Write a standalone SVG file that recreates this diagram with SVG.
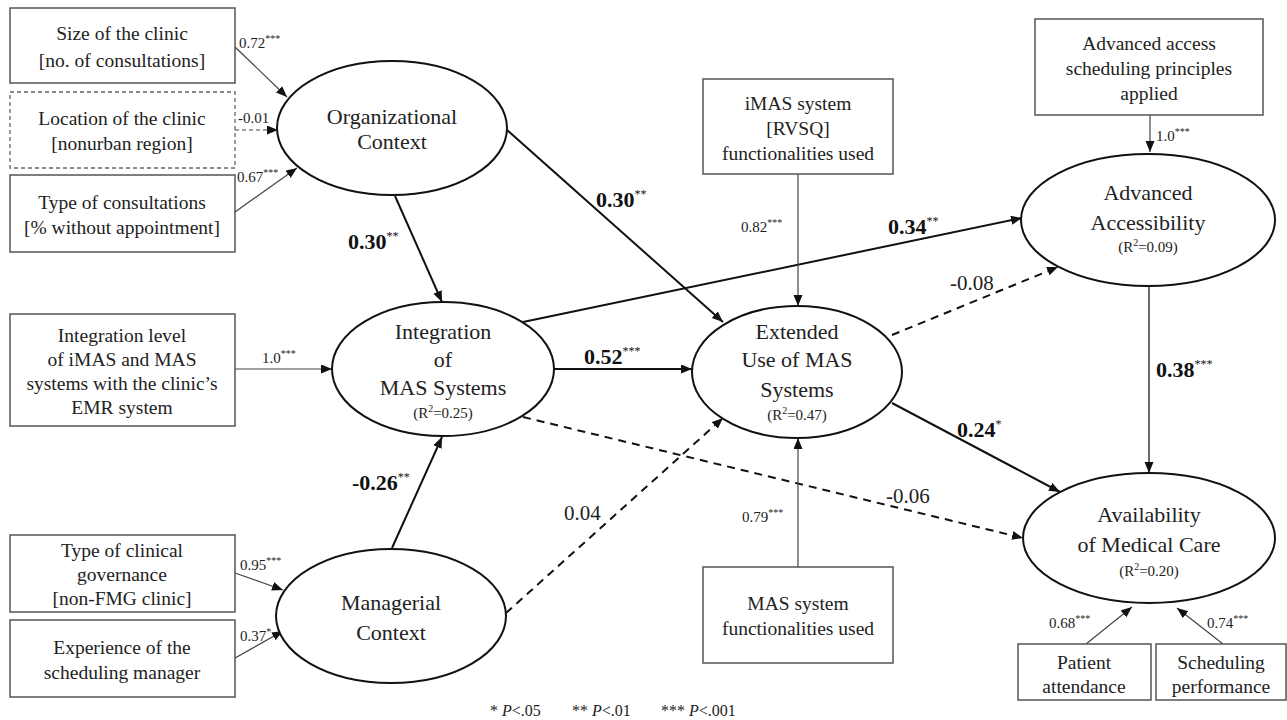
<svg xmlns="http://www.w3.org/2000/svg" width="1287" height="720" viewBox="0 0 1287 720" font-family="'Liberation Serif', 'Times New Roman', 'DejaVu Serif', serif">
<style>
text{font-family:"Liberation Serif","Times New Roman","DejaVu Serif",serif;fill:#222;}
.bx{fill:#fff;stroke:#555;stroke-width:1.5;}
.bxd{fill:#fff;stroke:#666;stroke-width:1.3;stroke-dasharray:4 3;}
.el{fill:#fff;stroke:#111;stroke-width:2;}
.bt{font-size:19.5px;text-anchor:middle;}
.et{font-size:22px;text-anchor:middle;}
.r2{font-size:15px;text-anchor:middle;}
.sm{font-size:15px;}
.big{font-size:22px;font-weight:bold;fill:#111;}
.reg{font-size:21px;}
.sup{font-size:10px;}
.supb{font-size:12px;font-weight:normal;}
.thin{stroke:#444;stroke-width:1.2;fill:none;marker-end:url(#ah);}
.thick{stroke:#111;stroke-width:2;fill:none;marker-end:url(#ah);}
.dash{stroke-dasharray:8 6;}
.thind{stroke:#444;stroke-width:1.2;fill:none;stroke-dasharray:4 3;marker-end:url(#ah);}
</style>
<defs>
<marker id="ah" markerUnits="userSpaceOnUse" markerWidth="12" markerHeight="10" refX="11" refY="4.5" orient="auto">
<path d="M0,0 L11,4.5 L0,9 Z" fill="#111"/>
</marker>
</defs>
<rect width="1287" height="720" fill="#fff"/>

<g id="connectors">
<line class="thin" x1="235" y1="47" x2="287" y2="97"/>
<line class="thind" x1="235" y1="130" x2="278" y2="130"/>
<line class="thin" x1="235" y1="212" x2="297" y2="168"/>
<line class="thick" x1="395" y1="196" x2="442" y2="302"/>
<line class="thick" x1="507" y1="130" x2="723" y2="322"/>
<line class="thin" x1="235" y1="369" x2="332" y2="369"/>
<line class="thick" x1="554" y1="369" x2="692" y2="369"/>
<line class="thick" x1="523" y1="322" x2="1022" y2="218"/>
<line class="thick dash" x1="523" y1="417" x2="1023" y2="538"/>
<line class="thick" x1="392" y1="548" x2="442" y2="437"/>
<line class="thick dash" x1="506" y1="613" x2="723" y2="418"/>
<line class="thin" x1="798" y1="174" x2="798" y2="306"/>
<line class="thin" x1="798" y1="567" x2="798" y2="438"/>
<line class="thick dash" x1="892" y1="335" x2="1058" y2="267"/>
<line class="thick" x1="892" y1="403" x2="1060" y2="492"/>
<line class="thin" x1="1149" y1="286" x2="1149" y2="473" style="stroke-width:1.6"/>
<line class="thin" x1="1150" y1="115" x2="1150" y2="152"/>
<line class="thin" x1="1086" y1="644" x2="1132" y2="607"/>
<line class="thin" x1="1223" y1="644" x2="1177" y2="608"/>
<line class="thin" x1="235" y1="573" x2="283" y2="590"/>
<line class="thin" x1="235" y1="658" x2="283" y2="631"/>
</g>

<g id="n-size">
<rect class="bx" x="10" y="8" width="225" height="75"/>
<text class="bt" x="122" y="40">Size of the clinic</text>
<text class="bt" x="122" y="67">[no. of consultations]</text>
</g>
<g id="n-location">
<rect class="bxd" x="10" y="92" width="225" height="76"/>
<text class="bt" x="122" y="125">Location of the clinic</text>
<text class="bt" x="122" y="150">[nonurban region]</text>
</g>
<g id="n-type">
<rect class="bx" x="10" y="175" width="225" height="77"/>
<text class="bt" x="122" y="209">Type of consultations</text>
<text class="bt" x="122" y="234">[% without appointment]</text>
</g>
<g id="n-integlevel">
<rect class="bx" x="10" y="314" width="225" height="112"/>
<text class="bt" x="122" y="342">Integration level</text>
<text class="bt" x="122" y="366">of iMAS and MAS</text>
<text class="bt" x="122" y="390">systems with the clinic’s</text>
<text class="bt" x="122" y="414">EMR system</text>
</g>
<g id="n-governance">
<rect class="bx" x="10" y="535" width="225" height="77"/>
<text class="bt" x="122" y="557">Type of clinical</text>
<text class="bt" x="122" y="581">governance</text>
<text class="bt" x="122" y="605">[non-FMG clinic]</text>
</g>
<g id="n-experience">
<rect class="bx" x="10" y="620" width="225" height="77"/>
<text class="bt" x="122" y="654">Experience of the</text>
<text class="bt" x="122" y="679">scheduling manager</text>
</g>
<g id="n-imas">
<rect class="bx" x="703" y="79" width="190" height="95"/>
<text class="bt" x="798" y="110">iMAS system</text>
<text class="bt" x="798" y="135">[RVSQ]</text>
<text class="bt" x="798" y="160">functionalities used</text>
</g>
<g id="n-mas">
<rect class="bx" x="703" y="567" width="190" height="96"/>
<text class="bt" x="798" y="610">MAS system</text>
<text class="bt" x="798" y="635">functionalities used</text>
</g>
<g id="n-advbox">
<rect class="bx" x="1035" y="19" width="228" height="96"/>
<text class="bt" x="1149" y="50">Advanced access</text>
<text class="bt" x="1149" y="75">scheduling principles</text>
<text class="bt" x="1149" y="100">applied</text>
</g>
<g id="n-patient">
<rect class="bx" x="1018" y="644" width="133" height="56"/>
<text class="bt" x="1084" y="669">Patient</text>
<text class="bt" x="1084" y="693">attendance</text>
</g>
<g id="n-schedperf">
<rect class="bx" x="1156" y="644" width="130" height="56"/>
<text class="bt" x="1221" y="669">Scheduling</text>
<text class="bt" x="1221" y="693">performance</text>
</g>

<g id="n-org">
<ellipse class="el" cx="392" cy="128" rx="115" ry="67"/>
<text class="et" x="392" y="124">Organizational</text>
<text class="et" x="392" y="149">Context</text>
</g>
<g id="n-integration">
<ellipse class="el" cx="443" cy="369" rx="111" ry="67"/>
<text class="et" x="443" y="339">Integration</text>
<text class="et" x="443" y="367">of</text>
<text class="et" x="443" y="395">MAS Systems</text>
<text class="r2" x="443" y="418">(R<tspan class="sup" dy="-6">2</tspan><tspan dy="6">=0.25)</tspan></text>
</g>
<g id="n-managerial">
<ellipse class="el" cx="391" cy="616" rx="115" ry="67"/>
<text class="et" x="391" y="610">Managerial</text>
<text class="et" x="391" y="640">Context</text>
</g>
<g id="n-extended">
<ellipse class="el" cx="797" cy="372" rx="105" ry="66"/>
<text class="et" x="797" y="339">Extended</text>
<text class="et" x="797" y="367">Use of MAS</text>
<text class="et" x="797" y="397">Systems</text>
<text class="r2" x="797" y="420">(R<tspan class="sup" dy="-6">2</tspan><tspan dy="6">=0.47)</tspan></text>
</g>
<g id="n-advacc">
<ellipse class="el" cx="1148" cy="220" rx="127" ry="66"/>
<text class="et" x="1148" y="200">Advanced</text>
<text class="et" x="1148" y="230">Accessibility</text>
<text class="r2" x="1148" y="252">(R<tspan class="sup" dy="-6">2</tspan><tspan dy="6">=0.09)</tspan></text>
</g>
<g id="n-availability">
<ellipse class="el" cx="1149" cy="538" rx="126" ry="65"/>
<text class="et" x="1149" y="522">Availability</text>
<text class="et" x="1149" y="552">of Medical Care</text>
<text class="r2" x="1149" y="576">(R<tspan class="sup" dy="-6">2</tspan><tspan dy="6">=0.20)</tspan></text>
</g>

<g id="labels">
<text class="sm" x="239" y="48">0.72<tspan class="sup" dy="-6">***</tspan></text>
<text class="sm" x="238" y="123">-0.01</text>
<text class="sm" x="237" y="182">0.67<tspan class="sup" dy="-6">***</tspan></text>
<text class="sm" x="262" y="363">1.0<tspan class="sup" dy="-6">***</tspan></text>
<text class="sm" x="240" y="570">0.95<tspan class="sup" dy="-6">***</tspan></text>
<text class="sm" x="240" y="641">0.37<tspan class="sup" dy="-6">*</tspan></text>
<text class="sm" x="741" y="232">0.82<tspan class="sup" dy="-6">***</tspan></text>
<text class="sm" x="742" y="522">0.79<tspan class="sup" dy="-6">***</tspan></text>
<text class="sm" x="1156" y="141">1.0<tspan class="sup" dy="-6">***</tspan></text>
<text class="sm" x="1049" y="628">0.68<tspan class="sup" dy="-6">***</tspan></text>
<text class="sm" x="1207" y="628">0.74<tspan class="sup" dy="-6">***</tspan></text>

<text class="big" x="348" y="249">0.30<tspan class="supb" dy="-9">**</tspan></text>
<text class="big" x="596" y="207">0.30<tspan class="supb" dy="-9">**</tspan></text>
<text class="big" x="584" y="364">0.52<tspan class="supb" dy="-9">***</tspan></text>
<text class="big" x="888" y="234">0.34<tspan class="supb" dy="-9">**</tspan></text>
<text class="big" x="1156" y="377">0.38<tspan class="supb" dy="-9">***</tspan></text>
<text class="big" x="957" y="437">0.24<tspan class="supb" dy="-9">*</tspan></text>
<text class="big" x="352" y="490">-0.26<tspan class="supb" dy="-9">**</tspan></text>
<text class="reg" x="950" y="290">-0.08</text>
<text class="reg" x="886" y="503">-0.06</text>
<text class="reg" x="564" y="520">0.04</text>

<text x="490" y="716" style="font-size:16px">* <tspan font-style="italic">P</tspan>&lt;.05</text>
<text x="572" y="716" style="font-size:16px">** <tspan font-style="italic">P</tspan>&lt;.01</text>
<text x="661" y="716" style="font-size:16px">*** <tspan font-style="italic">P</tspan>&lt;.001</text>
</g>
</svg>
